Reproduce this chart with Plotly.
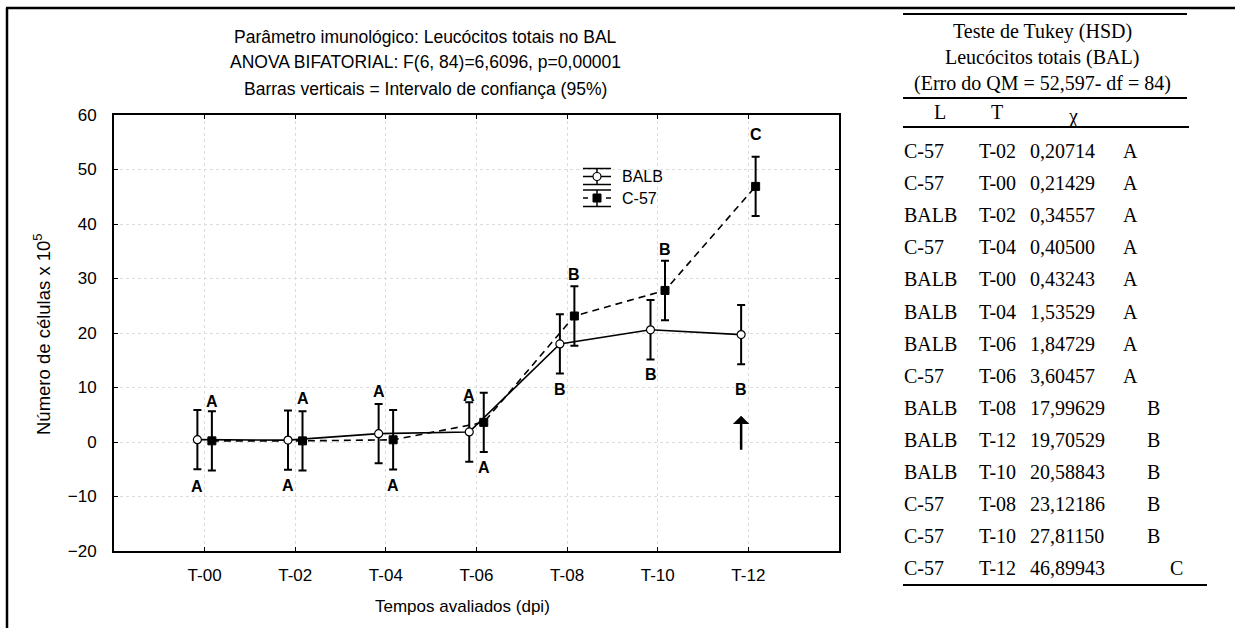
import plotly.graph_objects as go

# ---------------- data ----------------
times = ["T-00", "T-02", "T-04", "T-06", "T-08", "T-10", "T-12"]
balb = [0.43243, 0.34557, 1.53529, 1.84729, 17.99629, 20.58843, 19.70529]
c57 = [0.21429, 0.20714, 0.40500, 3.60457, 23.12186, 27.81150, 46.89943]
ci_balb = [5.45, 5.45, 5.45, 5.45, 5.45, 5.45, 5.45]
ci_c57 = [5.45, 5.45, 5.45, 5.45, 5.45, 5.45, 5.45]

# Tukey letters shown above / below each time point, and the series they sit on
letters_above = ["A", "A", "A", "A", "B", "B", "C"]
series_above = ["C-57", "C-57", "BALB", "BALB", "C-57", "C-57", "C-57"]
letters_below = ["A", "A", "A", "A", "B", "B", "B"]
series_below = ["BALB", "BALB", "C-57", "C-57", "BALB", "BALB", "BALB"]

# Tukey table
tab_L = ["C-57", "C-57", "BALB", "C-57", "BALB", "BALB", "BALB", "C-57",
         "BALB", "BALB", "BALB", "C-57", "C-57", "C-57"]
tab_T = ["T-02", "T-00", "T-02", "T-04", "T-00", "T-04", "T-06", "T-06",
         "T-08", "T-12", "T-10", "T-08", "T-10", "T-12"]
tab_val = ["0,20714", "0,21429", "0,34557", "0,40500", "0,43243", "1,53529",
           "1,84729", "3,60457", "17,99629", "19,70529", "20,58843", "23,12186",
           "27,81150", "46,89943"]
tab_grp = ["A", "A", "A", "A", "A", "A", "A", "A", "B", "B", "B", "B", "B", "C"]

# ---------------- layout helpers ----------------
W, H = 1235, 628
PL, PR, PT, PB = 114, 839, 115, 551


def fx(x):
    return (x - PL) / (PR - PL)


def fy(y):
    return (PB - y) / (PB - PT)


OFF = 0.08
SANS = "Liberation Sans, Arial, sans-serif"
SERIF = "Liberation Serif, Times New Roman, serif"

fig = go.Figure()
xs_b = [i - OFF for i in range(len(times))]
xs_c = [i + OFF for i in range(len(times))]

fig.add_trace(go.Scatter(
    x=xs_c, y=c57, mode="lines+markers", name="C-57", showlegend=False,
    line=dict(color="black", width=1.6, dash="7px,5px"),
    marker=dict(symbol="square", size=8, color="black", line=dict(color="black", width=1)),
    error_y=dict(type="data", array=ci_c57, color="black", thickness=2, width=4),
))
fig.add_trace(go.Scatter(
    x=xs_b, y=balb, mode="lines+markers", name="BALB", showlegend=False,
    line=dict(color="black", width=1.6),
    marker=dict(symbol="circle", size=8, color="white", line=dict(color="black", width=1.2)),
    error_y=dict(type="data", array=ci_balb, color="black", thickness=2, width=4),
))

ann = []
shift_above = [10, 13, 12, 7, 12, 11, 22]
shift_below = [17, 16, 16, 15, 16, 15, 25]
for i in range(len(times)):
    if series_above[i] == "BALB":
        xv, yv = xs_b[i], balb[i] + ci_balb[i]
    else:
        xv, yv = xs_c[i], c57[i] + ci_c57[i]
    ann.append(dict(x=xv, y=yv, xref="x", yref="y", text="<b>%s</b>" % letters_above[i],
                    showarrow=False, yshift=shift_above[i], yanchor="middle",
                    font=dict(family=SANS, size=16, color="black")))
    if series_below[i] == "BALB":
        xv, yv = xs_b[i], balb[i] - ci_balb[i]
    else:
        xv, yv = xs_c[i], c57[i] - ci_c57[i]
    ann.append(dict(x=xv, y=yv, xref="x", yref="y", text="<b>%s</b>" % letters_below[i],
                    showarrow=False, yshift=-shift_below[i], yanchor="middle",
                    font=dict(family=SANS, size=16, color="black")))

# arrow under T-12 BALB
ann.append(dict(x=6 - OFF, y=4.8, xref="x", yref="y", ax=6 - OFF, ay=-1.7,
                axref="x", ayref="y", showarrow=True, arrowhead=1, arrowsize=1.1,
                arrowwidth=2.5, arrowcolor="black", text=""))

# titles
titles = ["Parâmetro imunológico: Leucócitos totais no BAL",
          "ANOVA BIFATORIAL: F(6, 84)=6,6096, p=0,00001",
          "Barras verticais = Intervalo de confiança (95%)"]
for t, yy in zip(titles, [37, 62, 89]):
    ann.append(dict(x=fx(425), y=fy(yy), xref="paper", yref="paper", text=t, showarrow=False,
                    xanchor="center", yanchor="middle", font=dict(family=SANS, size=17.5, color="black")))

# axis titles
ann.append(dict(x=fx(462), y=fy(606), xref="paper", yref="paper", text="Tempos avaliados (dpi)",
                showarrow=False, xanchor="center", yanchor="middle",
                font=dict(family=SANS, size=17, color="black")))
ann.append(dict(x=fx(42), y=fy(334), xref="paper", yref="paper", text="Número de células x 10<sup>5</sup>",
                showarrow=False, xanchor="center", yanchor="middle", textangle=-90,
                font=dict(family=SANS, size=18.5, color="black")))

# legend (Statistica style icons)
shapes = []
LX0, LX1, LXC = 583, 611, 597
leg = [("BALB", 176.5, 168.5, 184.5, "circle"), ("C-57", 198, 190, 206.5, "square")]
for name, yc, ytop, ybot, sym in leg:
    for yy in (ytop, ybot):
        shapes.append(dict(type="line", xref="paper", yref="paper", x0=fx(LX0), x1=fx(LX1),
                           y0=fy(yy), y1=fy(yy), line=dict(color="black", width=1.5)))
    shapes.append(dict(type="line", xref="paper", yref="paper", x0=fx(LXC), x1=fx(LXC),
                       y0=fy(ytop), y1=fy(ybot), line=dict(color="black", width=1.5)))
    if sym == "circle":
        shapes.append(dict(type="line", xref="paper", yref="paper", x0=fx(LX0), x1=fx(LX1),
                           y0=fy(yc), y1=fy(yc), line=dict(color="black", width=1.5)))
        shapes.append(dict(type="circle", xref="paper", yref="paper", x0=fx(LXC - 4), x1=fx(LXC + 4),
                           y0=fy(yc - 4), y1=fy(yc + 4), fillcolor="white", line=dict(color="black", width=1.2)))
    else:
        for xa, xb in [(LX0, LX0 + 5), (LX1 - 5, LX1)]:
            shapes.append(dict(type="line", xref="paper", yref="paper", x0=fx(xa), x1=fx(xb),
                               y0=fy(yc), y1=fy(yc), line=dict(color="black", width=1.5)))
        shapes.append(dict(type="rect", xref="paper", yref="paper", x0=fx(LXC - 4), x1=fx(LXC + 4),
                           y0=fy(yc - 4), y1=fy(yc + 4), fillcolor="black", line=dict(color="black", width=1)))
    ann.append(dict(x=fx(620), y=fy(yc), xref="paper", yref="paper", text=name, showarrow=False,
                    xanchor="left", yanchor="middle", font=dict(family=SANS, size=16, color="black")))

# table header
heads = ["Teste de Tukey (HSD)", "Leucócitos totais (BAL)", "(Erro do QM = 52,597- df = 84)"]
for t, yy in zip(heads, [31, 57, 83]):
    ann.append(dict(x=fx(1042), y=fy(yy), xref="paper", yref="paper", text=t, showarrow=False,
                    xanchor="center", yanchor="middle", font=dict(family=SERIF, size=20, color="black")))
for t, xx, yy in [("L", 940, 112), ("T", 997, 112), ("χ", 1073, 116)]:
    ann.append(dict(x=fx(xx), y=fy(yy), xref="paper", yref="paper", text=t, showarrow=False,
                    xanchor="center", yanchor="middle", font=dict(family=SERIF, size=20, color="black")))

grp_x = {"A": 1121, "B": 1145, "C": 1168}
for k in range(len(tab_L)):
    yy = 151 + k * 32.1
    for t, xx in [(tab_L[k], 902), (tab_T[k], 977), (tab_val[k], 1028), (tab_grp[k], grp_x[tab_grp[k]])]:
        ann.append(dict(x=fx(xx), y=fy(yy), xref="paper", yref="paper", text=t, showarrow=False,
                        xanchor="left", yanchor="middle", font=dict(family=SERIF, size=20, color="black")))

# outer frame lines
shapes.append(dict(type="line", xref="paper", yref="paper", x0=fx(6), x1=fx(1236), y0=fy(8), y1=fy(8),
                   line=dict(color="black", width=2.5)))
shapes.append(dict(type="line", xref="paper", yref="paper", x0=fx(7), x1=fx(7), y0=fy(8), y1=fy(629),
                   line=dict(color="black", width=2.5)))
# table rules
for y0, xa, xb in [(14, 903, 1187), (98, 903, 1187), (127, 903, 1189), (585, 903, 1207)]:
    shapes.append(dict(type="line", xref="paper", yref="paper", x0=fx(xa), x1=fx(xb), y0=fy(y0), y1=fy(y0),
                       line=dict(color="black", width=2)))

fig.update_layout(
    width=W, height=H, autosize=False,
    margin=dict(l=PL, r=W - PR, t=PT, b=H - PB, pad=0),
    paper_bgcolor="white", plot_bgcolor="white",
    font=dict(family=SANS, size=17, color="black"),
    showlegend=False,
    annotations=ann, shapes=shapes,
)
fig.update_xaxes(
    range=[-1, 7], tickvals=list(range(len(times))), ticktext=times,
    showline=True, linecolor="black", linewidth=2, mirror="ticks",
    ticks="inside", ticklen=4, tickcolor="black", tickwidth=1,
    showgrid=True, gridcolor="#dcdcdc", griddash="dot", gridwidth=1, zeroline=False,
    tickfont=dict(family=SANS, size=17), ticklabelstandoff=8,
)
fig.update_yaxes(
    range=[-20, 60], dtick=10, tick0=0,
    showline=True, linecolor="black", linewidth=2, mirror="ticks",
    ticks="inside", ticklen=4, tickcolor="black", tickwidth=1,
    showgrid=True, gridcolor="#dcdcdc", griddash="dot", gridwidth=1, zeroline=False,
    tickfont=dict(family=SANS, size=17), ticklabelstandoff=12,
)

fig.write_html("out.html")
